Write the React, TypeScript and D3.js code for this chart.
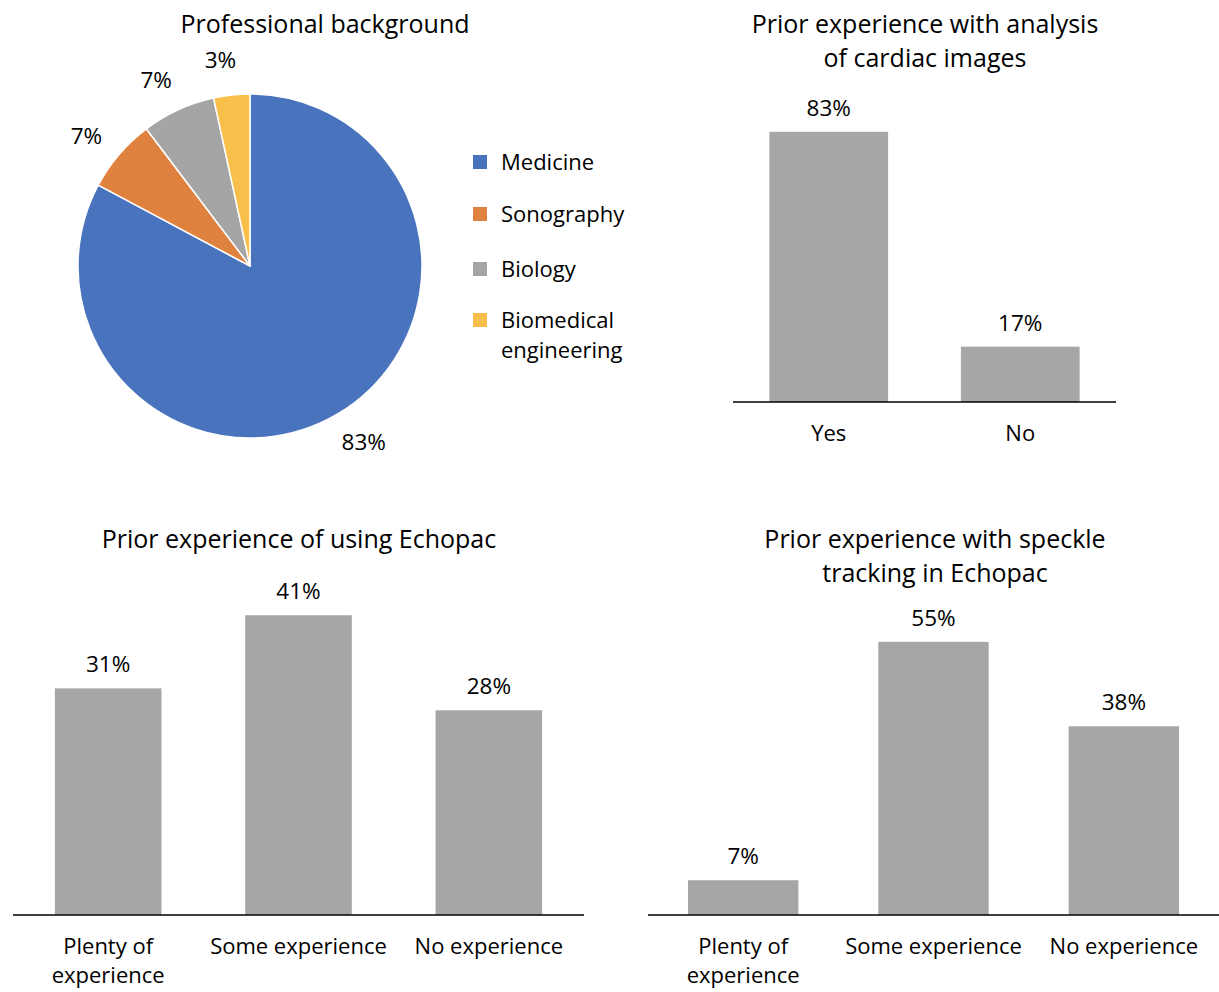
import React from "react";
import * as d3 from "d3";

const pieCategories = ["Medicine", "Sonography", "Biology", "Biomedical engineering"];
const pieValues = [82.8, 6.9, 6.9, 3.4];
const pieColors = ["#4a73bd", "#e0823f", "#a5a5a5", "#f8c04b"];

const cardiacCategories = ["Yes", "No"];
const cardiacValues = [83, 17];

const echopacCategories = ["Plenty of experience", "Some experience", "No experience"];
const echopacValues = [31, 41, 28];

const speckleCategories = ["Plenty of experience", "Some experience", "No experience"];
const speckleValues = [7, 55, 38];

const FONT = "'Open Sans', 'Noto Sans', sans-serif";
const BAR = "#a6a6a6";
const TITLE_FS = 25;
const VAL_FS = 22.5;
const CAT_FS = 22;

type BarProps = {
  cats: string[];
  vals: number[];
  x0: number;
  x1: number;
  axisY: number;
  yMax: number;
  plotH: number;
  padding: number;
  title: string[];
  titleX: number;
  titleY: number;
  wrapCats?: Record<string, string[]>;
};

function BarChart(p: BarProps) {
  const x = d3.scaleBand<string>().domain(p.cats).range([p.x0, p.x1]).paddingInner(p.padding).paddingOuter(p.padding / 2);
  const y = d3.scaleLinear().domain([0, p.yMax]).range([p.axisY, p.axisY - p.plotH]);
  return (
    <g>
      {p.title.map((t, i) => (
        <text key={i} x={p.titleX} y={p.titleY + i * 34} textAnchor="middle" fontSize={TITLE_FS} fill="#000" fontFamily={FONT}>
          {t}
        </text>
      ))}
      {p.cats.map((c, i) => {
        const bx = x(c)!;
        const bw = x.bandwidth();
        const top = y(p.vals[i]);
        const lines = p.wrapCats && p.wrapCats[c] ? p.wrapCats[c] : [c];
        return (
          <g key={c}>
            <rect x={bx} y={top} width={bw} height={p.axisY - top} fill={BAR} />
            <text x={bx + bw / 2} y={top - 16} textAnchor="middle" fontSize={VAL_FS} fontFamily={FONT} fill="#000">
              {d3.format(".0f")(p.vals[i]) + "%"}
            </text>
            {lines.map((l, j) => (
              <text key={j} x={bx + bw / 2} y={p.axisY + 39 + j * 29} textAnchor="middle" fontSize={CAT_FS} fontFamily={FONT} fill="#000">
                {l}
              </text>
            ))}
          </g>
        );
      })}
      <line x1={p.x0} x2={p.x1} y1={p.axisY} y2={p.axisY} stroke="#000" strokeWidth={1.5} />
    </g>
  );
}

function PieChart() {
  const cx = 250, cy = 266, r = 172;
  const pie = d3.pie<number>().sort(null).value((d) => d).startAngle(0).endAngle(2 * Math.PI);
  const arcs = pie(pieValues);
  const arc = d3.arc<d3.PieArcDatum<number>>().innerRadius(0).outerRadius(r);
  const labelArc = d3.arc<d3.PieArcDatum<number>>().innerRadius(209).outerRadius(209);
  const shift = (-2 * Math.PI) / 180;
  const legendY = [162, 214, 269, 320];
  return (
    <g>
      <text x={325} y={33} textAnchor="middle" fontSize={TITLE_FS} fontFamily={FONT} fill="#000">Professional background</text>
      <g transform={`translate(${cx},${cy})`}>
        {arcs.map((a, i) => (
          <path key={i} d={arc(a)!} fill={pieColors[i]} stroke="#fff" strokeWidth={1.5} />
        ))}
        {arcs.map((a, i) => {
          const [lx, ly] = labelArc.centroid({ ...a, startAngle: a.startAngle + shift, endAngle: a.endAngle + shift });
          return (
            <text key={i} x={lx} y={ly} textAnchor="middle" dominantBaseline="central" fontSize={VAL_FS} fontFamily={FONT} fill="#000">
              {d3.format(".0f")(pieValues[i]) + "%"}
            </text>
          );
        })}
      </g>
      {pieCategories.map((c, i) => {
        const lines = c === "Biomedical engineering" ? ["Biomedical", "engineering"] : [c];
        return (
          <g key={c}>
            <rect x={473} y={legendY[i] - 7} width={14} height={14} fill={pieColors[i]} />
            {lines.map((l, j) => (
              <text key={j} x={501} y={legendY[i] + 8 + j * 30} fontSize={CAT_FS} fontFamily={FONT} fill="#000">{l}</text>
            ))}
          </g>
        );
      })}
    </g>
  );
}

export default function App() {
  const wrap = { "Plenty of experience": ["Plenty of", "experience"] };
  return (
    <div style={{ position: "absolute", left: 0, top: 0 }}>
      <svg width={1219} height={992} style={{ display: "block", background: "#fff" }}>
        <PieChart />
        <BarChart cats={cardiacCategories} vals={cardiacValues} x0={733} x1={1116} axisY={402} yMax={90} plotH={293}
          padding={0.38} title={["Prior experience with analysis", "of cardiac images"]} titleX={925} titleY={33} />
        <BarChart cats={echopacCategories} vals={echopacValues} x0={13} x1={584} axisY={915} yMax={45} plotH={329}
          padding={0.44} title={["Prior experience of using Echopac"]} titleX={299} titleY={548} wrapCats={wrap} />
        <BarChart cats={speckleCategories} vals={speckleValues} x0={648} x1={1219} axisY={915} yMax={60} plotH={298}
          padding={0.42} title={["Prior experience with speckle", "tracking in Echopac"]} titleX={935} titleY={548} wrapCats={wrap} />
      </svg>
    </div>
  );
}
